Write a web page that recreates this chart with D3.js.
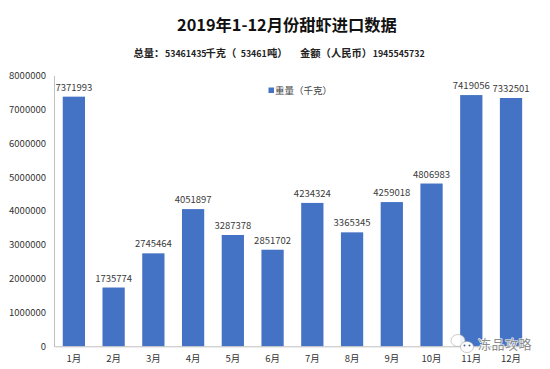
<!DOCTYPE html>
<html>
<head>
<meta charset="utf-8">
<script src="https://cdn.jsdelivr.net/npm/d3@7"></script>
<style>
	html, body { margin: 0; padding: 0; background: #fff; }
	svg { display: block; }
	text { font-family: "Noto Sans CJK SC", "Liberation Sans", sans-serif; }
	.tick-label { font-size: 9.5px; fill: #333; }
	.data-label { font-size: 9.5px; fill: #3a3a3a; }
</style>
</head>
<body>
<svg id="chart" width="550" height="369"></svg>
<script>
const months = ['1月', '2月', '3月', '4月', '5月', '6月', '7月', '8月', '9月', '10月', '11月', '12月'];
const weights = [7371993, 1735774, 2745464, 4051897, 3287378, 2851702, 4234324, 3365345, 4259018, 4806983, 7419056, 7332501];
const yTicks = [0, 1000000, 2000000, 3000000, 4000000, 5000000, 6000000, 7000000, 8000000];

const title = '2019年1-12月份甜虾进口数据';
const subtitleParts = ['总量：', '53461435', '千克（', '53461', '吨）', '金额（人民币）', '1945545732'];
const subtitleStarts = [133.5, 165, 205.5, 240.7, 267, 300, 372.7];
const legendLabel = '重量（千克）';
const watermark = '冻品攻略';

const margin = {top: 75.4, right: 19.1, bottom: 22.7, left: 54};
const width = 550 - margin.left - margin.right;
const height = 369 - margin.top - margin.bottom;

const svg = d3.select('#chart');
const g = svg.append('g')
	.attr('transform', 'translate(' + margin.left + ',' + margin.top + ')');

const xScale = d3.scaleBand().domain(months).range([0, width]).paddingInner(0.44).paddingOuter(0.22);
const yScale = d3.scaleLinear().domain([0, 8000000]).range([height, 0]);

// bars
g.selectAll('rect.bar')
	.data(weights)
	.join('rect')
	.attr('class', 'bar')
	.attr('x', (d, i) => xScale(months[i]))
	.attr('y', d => yScale(d))
	.attr('width', xScale.bandwidth())
	.attr('height', d => height - yScale(d))
	.attr('fill', '#4472c4');

// value labels
g.selectAll('text.data-label')
	.data(weights)
	.join('text')
	.attr('class', 'data-label')
	.attr('x', (d, i) => xScale(months[i]) + xScale.bandwidth() / 2)
	.attr('y', d => yScale(d) - 6)
	.attr('text-anchor', 'middle')
	.text(d => d);

// y axis
const yAxis = g.append('g')
	.call(d3.axisLeft(yScale).tickValues(yTicks).tickFormat(d3.format('d')).tickSize(0).tickPadding(8));
yAxis.select('.domain').attr('stroke', '#bfbfc4');
yAxis.selectAll('.tick text').attr('class', 'tick-label').attr('font-family', null).attr('font-size', null);

// x axis
const xAxis = g.append('g')
	.attr('transform', 'translate(0,' + height + ')')
	.call(d3.axisBottom(xScale).tickSize(0).tickPadding(9));
xAxis.select('.domain').attr('stroke', '#bfbfc4');
xAxis.selectAll('.tick text').attr('class', 'tick-label').attr('font-family', null).attr('font-size', null);

// title block
svg.append('text')
	.attr('x', 287).attr('y', 30.5)
	.attr('text-anchor', 'middle')
	.attr('font-size', 16.3)
	.attr('font-weight', 700)
	.attr('fill', '#111')
	.text(title);

// subtitle digits are set smaller than the CJK text, like the reference
const subtitle = svg.append('text')
	.attr('y', 57)
	.attr('font-weight', 700)
	.attr('fill', '#222');
subtitle.selectAll('tspan')
	.data(subtitleParts)
	.join('tspan')
	.attr('x', (d, i) => subtitleStarts[i])
	.attr('font-size', d => /^\d+$/.test(d) ? 8.8 : 10.3)
	.text(d => d);

// legend
svg.append('rect')
	.attr('x', 268.5).attr('y', 87.5)
	.attr('width', 5.5).attr('height', 5.5)
	.attr('fill', '#4472c4');
svg.append('text')
	.attr('x', 275).attr('y', 93.5)
	.attr('font-size', 9.5)
	.attr('fill', '#444')
	.text(legendLabel);

// watermark
const wm = svg.append('g').attr('class', 'watermark');
wm.append('ellipse')
	.attr('cx', 458).attr('cy', 340.5).attr('rx', 7).attr('ry', 6)
	.attr('fill', '#fff').attr('fill-opacity', 0.9).attr('stroke', '#aaa').attr('stroke-width', 0.6);
wm.append('ellipse')
	.attr('cx', 467).attr('cy', 347).attr('rx', 6.5).attr('ry', 5.5)
	.attr('fill', '#fff').attr('stroke', '#aaa').attr('stroke-width', 0.6);
wm.selectAll('circle')
	.data([[464.5, 345.5], [469.5, 345.5]])
	.join('circle')
	.attr('cx', d => d[0]).attr('cy', d => d[1]).attr('r', 1)
	.attr('fill', '#4a6590');
wm.append('text')
	.attr('x', 478).attr('y', 348.5)
	.attr('font-size', 13)
	.attr('letter-spacing', 0.5)
	.attr('fill', '#8c8c8c')
	.attr('stroke', '#fff')
	.attr('stroke-width', 1.2)
	.attr('paint-order', 'stroke')
	.text(watermark);
</script>
</body>
</html>
